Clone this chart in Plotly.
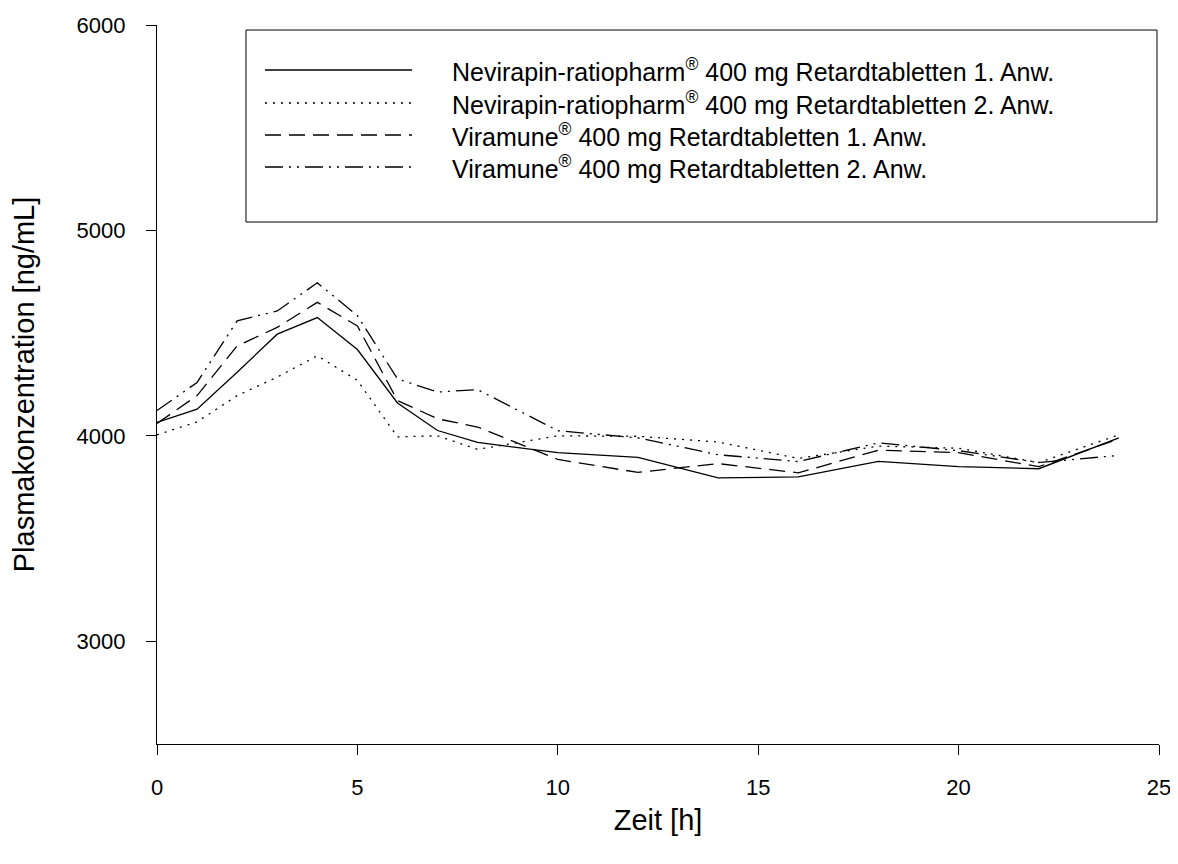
import plotly.graph_objects as go

# ---- data ----
zeit_h = [0, 1, 2, 3, 4, 5, 6, 7, 8, 10, 12, 14, 16, 18, 20, 22, 24]

nevirapin_1 = [4065, 4130, 4310, 4495, 4576, 4420, 4160, 4026, 3968, 3918, 3895, 3795, 3800, 3876, 3850, 3840, 3990]
nevirapin_2 = [4005, 4068, 4196, 4286, 4390, 4270, 3995, 4000, 3934, 4000, 3998, 3970, 3890, 3950, 3940, 3870, 4005]
viramune_1 = [4060, 4196, 4438, 4528, 4650, 4535, 4172, 4083, 4043, 3885, 3822, 3865, 3820, 3930, 3918, 3850, 3985]
viramune_2 = [4123, 4260, 4560, 4608, 4745, 4585, 4277, 4213, 4225, 4025, 3990, 3908, 3875, 3966, 3928, 3870, 3905]

series_names = [
    "Nevirapin-ratiopharm<sup>®</sup> 400 mg Retardtabletten 1. Anw.",
    "Nevirapin-ratiopharm<sup>®</sup> 400 mg Retardtabletten 2. Anw.",
    "Viramune<sup>®</sup> 400 mg Retardtabletten 1. Anw.",
    "Viramune<sup>®</sup> 400 mg Retardtabletten 2. Anw.",
]
series_values = [nevirapin_1, nevirapin_2, viramune_1, viramune_2]
series_dash = ["solid", "2px,6px", "16px,8px", "18px,6px,2px,6px,2px,6px"]

x_ticks = [0, 5, 10, 15, 20, 25]
y_ticks = [3000, 4000, 5000, 6000]

FONT = "Liberation Sans, Arial, sans-serif"

fig = go.Figure()
for name, vals, dash in zip(series_names, series_values, series_dash):
    fig.add_trace(go.Scatter(
        x=zeit_h, y=vals, name=name, mode="lines",
        line=dict(color="black", width=1.3, dash=dash),
        showlegend=False,
    ))

# ---- manual legend (box, line samples, labels) ----
shapes = [dict(type="rect", xref="paper", yref="paper",
               x0=0.0888, x1=0.998, y0=0.726, y1=0.993,
               line=dict(color="black", width=1), fillcolor="white", layer="below")]
annotations = []
legend_y = [0.9374, 0.8915, 0.847, 0.8025]
for name, dash, ly in zip(series_names, series_dash, legend_y):
    shapes.append(dict(type="line", xref="paper", yref="paper",
                       x0=0.1078, x1=0.2545, y0=ly, y1=ly,
                       line=dict(color="black", width=1.3, dash=dash)))
    annotations.append(dict(xref="paper", yref="paper", x=0.2924, y=ly,
                            xanchor="left", yanchor="middle", showarrow=False,
                            text=name, font=dict(family=FONT, size=25, color="black")))

fig.update_layout(
    width=1178, height=864,
    margin=dict(l=149, r=27, t=17, b=128, autoexpand=False),
    paper_bgcolor="white", plot_bgcolor="white",
    font=dict(family=FONT, color="black"),
    shapes=shapes, annotations=annotations,
    showlegend=False,
)
fig.update_xaxes(
    range=[0, 25], tickvals=x_ticks, ticktext=[str(v) for v in x_ticks],
    showline=True, linecolor="black", linewidth=1.3, mirror=False,
    ticks="outside", ticklen=10, tickcolor="black", tickwidth=1.3,
    showgrid=False, zeroline=False, automargin=False,
    tickfont=dict(family=FONT, size=22), ticklabelstandoff=13,
    title=dict(text="Zeit [h]", font=dict(family=FONT, size=29), standoff=11),
)
fig.update_yaxes(
    range=[2500, 6000], tickvals=y_ticks, ticktext=[str(v) for v in y_ticks],
    showline=True, linecolor="black", linewidth=1.3, mirror=False,
    ticks="outside", ticklen=10, tickcolor="black", tickwidth=1.3,
    showgrid=False, zeroline=False, automargin=False,
    tickfont=dict(family=FONT, size=22), ticklabelstandoff=16,
    title=dict(text="Plasmakonzentration [ng/mL]", font=dict(family=FONT, size=29), standoff=36),
)

fig.write_html("out.html")
